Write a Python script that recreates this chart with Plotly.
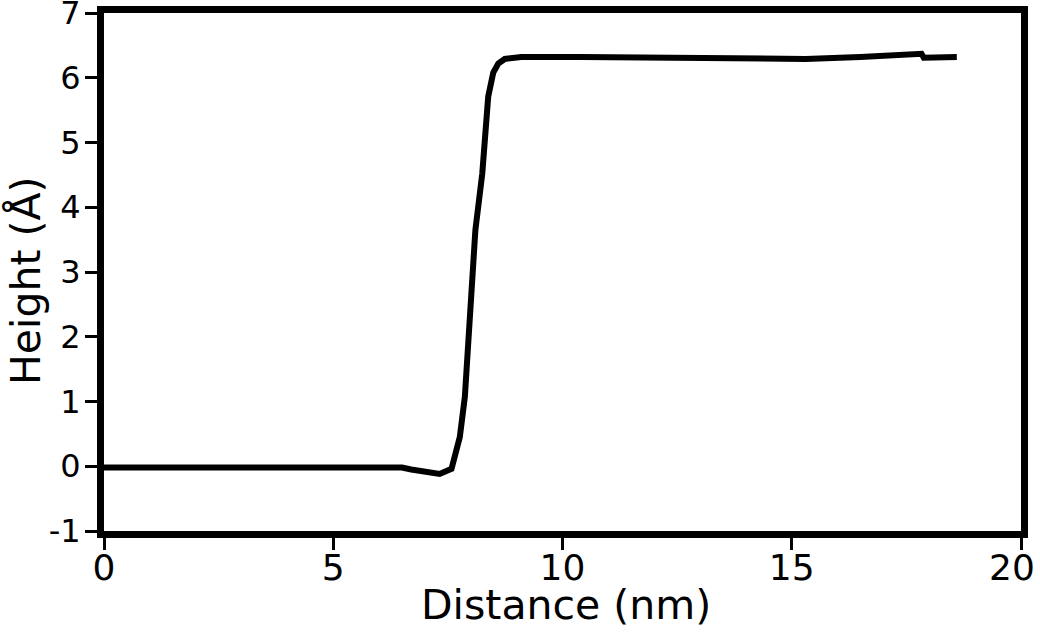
import plotly.graph_objects as go

distance_nm = [0, 2, 4, 6.4, 6.5, 6.7, 6.95, 7.32, 7.58, 7.76, 7.87, 7.96, 8.1, 8.25,
               8.31, 8.38, 8.49, 8.6, 8.74, 9.1, 10.4, 12.5, 15.3, 16.5, 17.83, 17.88, 18.2, 18.6]
height_A = [-0.02, -0.02, -0.01, -0.01, -0.02, -0.05, -0.07, -0.12, -0.04, 0.45, 1.07, 2.1,
            3.65, 4.52, 5.19, 5.71, 6.08, 6.22, 6.29, 6.32, 6.32, 6.31, 6.29, 6.32, 6.37, 6.31, 6.31, 6.32]

x_ticks = [0, 5, 10, 15, 20]
x_labels = ["0", "5", "10", "15", "20\u2002"]
y_ticks = [-1, 0, 1, 2, 3, 4, 5, 6, 7]
y_labels = ["-1", "0", "1", "2", "3", "4", "5", "6", "7"]

font_family = "Verdana, DejaVu Sans, sans-serif"

fig = go.Figure()
fig.add_trace(go.Scatter(
    x=distance_nm, y=height_A, mode="lines",
    line=dict(color="black", width=6),
    showlegend=False, hoverinfo="skip",
))

axis_common = dict(
    showline=True, linecolor="black", linewidth=7, mirror=True,
    ticks="outside", ticklen=12, tickwidth=3, tickcolor="black",
    showgrid=False, zeroline=False, automargin=False,
    ticklabeloverflow="allow",
)

fig.update_layout(
    width=1040, height=634,
    margin=dict(l=104, r=19, t=13, b=103),
    plot_bgcolor="white", paper_bgcolor="white",
    xaxis=dict(range=[0, 20], tickvals=x_ticks, ticktext=x_labels,
               ticklabelstandoff=-13,
               tickfont=dict(family=font_family, size=36, color="black"),
               **axis_common),
    yaxis=dict(range=[-1, 7], tickvals=y_ticks, ticktext=y_labels,
               ticklabelstandoff=-2,
               tickfont=dict(family=font_family, size=32, color="black"),
               **axis_common),
    annotations=[
        dict(text="Distance (nm)", xref="paper", yref="paper", x=0.5033, y=0,
             yshift=-74, xanchor="center", yanchor="middle", showarrow=False,
             font=dict(family=font_family, size=41, color="black")),
        dict(text="Height (Å)", xref="paper", yref="paper", x=0, y=0.4826,
             xshift=-78, xanchor="center", yanchor="middle", textangle=-90,
             showarrow=False, font=dict(family=font_family, size=41, color="black")),
    ],
)

fig.write_html(
    "out.html",
    config={"displayModeBar": False},
    post_script="document.body.style.margin='0px';document.body.style.overflow='hidden';",
)
